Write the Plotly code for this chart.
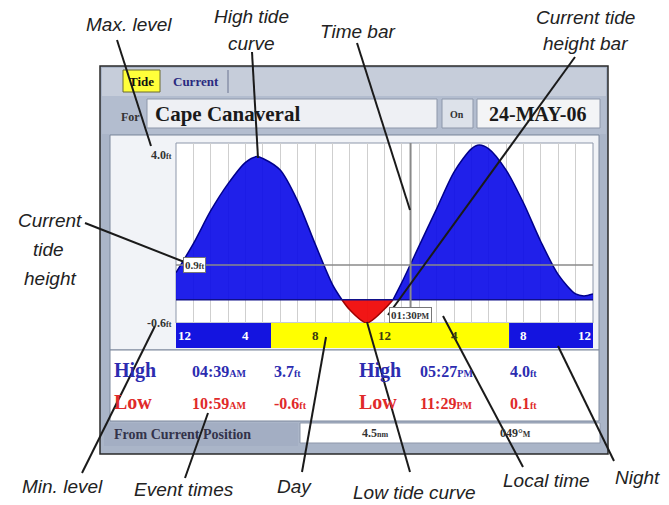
import numpy as np
import plotly.graph_objects as go

# ---------------- data ----------------
tide_hours = [0, 1, 2, 3, 4, 4.65, 5, 6, 7, 8, 9, 9.55, 10, 10.98, 12, 12.49,
              13, 14, 15, 16, 17, 17.45, 18, 19, 20, 21, 22, 23, 23.48, 24]
tide_ft = [0.7, 1.45, 2.3, 3.0, 3.55, 3.7, 3.65, 3.35, 2.55, 1.45, 0.4, 0.0,
           -0.26, -0.6, -0.24, 0.0, 0.45, 1.4, 2.35, 3.3, 3.9, 4.0, 3.9, 3.35,
           2.5, 1.5, 0.65, 0.15, 0.1, 0.15]
low_start, low_end = 9.55, 12.49          # zero crossings
sunrise_h, sunset_h = 5.47, 19.17
bar_hours = [0, 4, 8, 12, 16, 20, 24]
bar_labels = ["12", "4", "8", "12", "4", "8", "12"]
current_hour, current_ft = 13.5, 0.9
local_time, local_ampm = "01:30", "PM"
max_level, min_level = 4.0, -0.6

event_kind = ["High", "Low", "High", "Low"]
event_time = ["04:39", "10:59", "05:27", "11:29"]
event_ampm = ["AM", "AM", "PM", "PM"]
event_ft = [3.7, -0.6, 4.0, 0.1]

station = "Cape Canaveral"
date_str = "24-MAY-06"
distance = "4.5"
bearing = "049°"

callouts = ["Max. level", "High tide|curve", "Time bar", "Current tide|height bar",
            "Current|tide|height", "Min. level", "Event times", "Day",
            "Low tide curve", "Local time", "Night"]

# ---------------- helpers ----------------
W, H = 669, 505
def X(p): return p / W
def Y(p): return 1 - p / H

h = np.array(tide_hours)
f = np.array(tide_ft)
seg1 = h <= low_start
seg2 = h >= low_end
segr = (h >= low_start) & (h <= low_end)

fig = go.Figure()
for m in (seg1, seg2):
    fig.add_trace(go.Scatter(x=h[m], y=np.clip(f[m], 0, None), mode="lines",
                             line=dict(color="#00008c", width=1.5, shape="spline", smoothing=0.8),
                             fill="tozeroy", fillcolor="rgba(8,8,232,0.9)",
                             hoverinfo="skip", showlegend=False))
fig.add_trace(go.Scatter(x=h[segr], y=f[segr], mode="lines",
                         line=dict(color="#a00000", width=1.5, shape="spline", smoothing=0.8),
                         fill="tozeroy", fillcolor="rgba(240,10,10,0.95)",
                         hoverinfo="skip", showlegend=False))

shapes = []
def rect(x0, y0, x1, y1, fill, line=None, lw=0, layer="below"):
    shapes.append(dict(type="rect", xref="paper", yref="paper",
                       x0=X(x0), x1=X(x1), y0=Y(y1), y1=Y(y0),
                       fillcolor=fill, line=dict(color=line or fill, width=lw), layer=layer))
def seg(x0, y0, x1, y1, color="#1a1a1a", w=2, layer="above"):
    shapes.append(dict(type="line", xref="paper", yref="paper",
                       x0=X(x0), y0=Y(y0), x1=X(x1), y1=Y(y1),
                       line=dict(color=color, width=w), layer=layer))

# device frame and panels
rect(100, 66, 608, 454, "#aab5c8", "#2a2a2a", 1.5)
rect(102, 68, 606, 96, "#c6cdda")
rect(102, 96, 606, 134, "#b3bdcf")
rect(123, 70, 160, 92, "#ffff3a", "#6a6a30", 1)
seg(228, 70, 228, 93, "#8890a8", 1.5, "below")
rect(147, 99, 437, 128, "#eef0f4", "#8d97aa", 1)
rect(442, 99, 473, 128, "#dde2ea", "#8d97aa", 1)
rect(477, 99, 600, 128, "#f3f4f6", "#8d97aa", 1)
rect(110, 135, 599, 350, "#f1f3f7", "#7d889c", 1)
rect(176, 143, 593, 323, "#ffffff", "#8d97aa", 1)
rect(110, 350, 599, 421, "#ffffff", "#7d889c", 1)
rect(104, 423, 298, 446, "#a3aec3")
rect(300, 423, 600, 443, "#ffffff", "#8d97aa", 1)

# day / night bar (data x)
for x0, x1, c in [(0, sunrise_h, "#1414e0"), (sunrise_h, sunset_h, "#ffff00"), (sunset_h, 24, "#1414e0")]:
    shapes.append(dict(type="rect", xref="x", yref="paper", x0=x0, x1=x1,
                       y0=Y(348), y1=Y(323), fillcolor=c, line=dict(width=0), layer="below"))

# zero line, current height bar, time bar
shapes.append(dict(type="line", xref="x", yref="y", x0=0, x1=24, y0=0, y1=0,
                   line=dict(color="#10108a", width=1.5), layer="above"))
shapes.append(dict(type="line", xref="x", yref="y", x0=0, x1=24, y0=current_ft, y1=current_ft,
                   line=dict(color="#8a8a8a", width=1.5), layer="above"))
shapes.append(dict(type="line", xref="x", yref="y domain", x0=current_hour, x1=current_hour, y0=0, y1=1,
                   line=dict(color="#8a8a8a", width=2), layer="above"))

# leader lines
seg(117, 40, 151, 146)
seg(252, 52, 258, 158)
seg(357, 43, 410, 210)
seg(575, 57, 388, 315)
seg(85, 223, 192, 265)
seg(82, 473, 155, 326)
seg(185, 478, 208, 413)
seg(302, 472, 326, 337)
seg(410, 472, 367, 322)
seg(523, 467, 443, 316)
seg(614, 461, 558, 346)

ann = []
def txt(x, y, s, size, color="#222", family="Liberation Sans, Arial", xanchor="center", **kw):
    ann.append(dict(x=X(x), y=Y(y), xref="paper", yref="paper", text=s, showarrow=False,
                    xanchor=xanchor, yanchor="middle",
                    font=dict(size=size, color=color, family=family), **kw))

# callout labels (italic)
pos = [[(129, 24)], [(251, 16), (251, 44)], [(358, 31)], [(585, 17), (585, 44)],
       [(50, 221), (48, 249), (50, 278)], [(62, 486)], [(184, 489)], [(294, 486)],
       [(414, 492)], [(546, 480)], [(637, 477)]]
for label, ps in zip(callouts, pos):
    for part, (x, y) in zip(label.split("|"), ps):
        txt(x, y, "<i>" + part + "</i>", 19, "#222222")

serif = "Liberation Serif, Times New Roman, serif"
# header
txt(141, 81, "<b>Tide</b>", 13, "#111", serif)
txt(196, 81, "<b>Current</b>", 13, "#2a2a80", serif)
txt(130, 117, "<b>For</b>", 12, "#333", serif)
txt(153, 114, "<b>" + station + "</b>", 21, "#1a1a1a", serif, xanchor="left")
txt(457, 115, "<b>On</b>", 10, "#333", serif)
txt(537, 114, "<b>" + date_str + "</b>", 20, "#1a1a1a", serif)

# y labels
ann.append(dict(x=X(174), y=max_level, xref="paper", yref="y", yanchor="top", yshift=-1,
                xanchor="right", showarrow=False,
                text="<b>%.1f<span style='font-size:8px'>ft</span></b>" % max_level,
                font=dict(size=12, color="#333", family=serif)))
ann.append(dict(x=X(174), y=min_level, xref="paper", yref="y", yanchor="middle",
                xanchor="right", showarrow=False,
                text="<b>%.1f<span style='font-size:8px'>ft</span></b>" % min_level,
                font=dict(size=12, color="#333", family=serif)))
# current height box
ann.append(dict(x=X(183), y=current_ft, xref="paper", yref="y", xanchor="left", yanchor="middle",
                showarrow=False, bgcolor="#ffffff", bordercolor="#777", borderwidth=1, borderpad=1,
                text="<b>%.1f<span style='font-size:8px'>ft</span></b>" % current_ft,
                font=dict(size=11, color="#333", family=serif)))
# local time box
ann.append(dict(x=current_hour, y=Y(315), xref="x", yref="paper", xanchor="center", yanchor="middle",
                showarrow=False, bgcolor="#ffffff", bordercolor="#777", borderwidth=1, borderpad=1,
                text="<b>%s<span style='font-size:8px'>%s</span></b>" % (local_time, local_ampm),
                font=dict(size=11, color="#333", family=serif)))
# bar labels
for i, (bh, bl) in enumerate(zip(bar_hours, bar_labels)):
    day = sunrise_h < bh < sunset_h
    xa = "left" if i == 0 else ("right" if i == len(bar_hours) - 1 else "center")
    ann.append(dict(x=bh, y=Y(335), xref="x", yref="paper", xanchor=xa, yanchor="middle",
                    showarrow=False, text="<b>" + bl + "</b>",
                    font=dict(size=13, color="#3a3a10" if day else "#ffffff", family=serif)))

# event table
col_x = [(112, 190, 272), (357, 418, 508)]
row_y = [370, 402]
for k in range(4):
    cx = col_x[k // 2]
    ry = row_y[k % 2]
    c = "#2c2cb0" if event_kind[k] == "High" else "#e02a2a"
    txt(cx[0], ry, "<b>" + event_kind[k] + "</b>", 20, c, serif, xanchor="left")
    txt(cx[1], ry + 1, "<b>%s<span style='font-size:10px'>%s</span></b>" % (event_time[k], event_ampm[k]),
        16, c, serif, xanchor="left")
    txt(cx[2], ry + 1, "<b>%.1f<span style='font-size:10px'>ft</span></b>" % event_ft[k],
        16, c, serif, xanchor="left")

# bottom row
txt(112, 434, "<b>From Current Position</b>", 14, "#33334a", serif, xanchor="left")
txt(375, 433, "<b>%s<span style='font-size:8px'>nm</span></b>" % distance, 12, "#333", serif)
txt(515, 433, "<b>%s<span style='font-size:8px'>M</span></b>" % bearing, 12, "#333", serif)

fig.update_layout(
    width=W, height=H, margin=dict(l=0, r=0, t=0, b=0),
    paper_bgcolor="#ffffff", plot_bgcolor="rgba(0,0,0,0)",
    shapes=shapes, annotations=ann, showlegend=False,
    xaxis=dict(domain=[X(176), X(593)], range=[0, 24], dtick=1, tick0=0, showgrid=True,
               gridcolor="#cfcfcf", gridwidth=1, zeroline=False, showticklabels=False,
               showline=False, fixedrange=True),
    yaxis=dict(domain=[Y(323), Y(143)], range=[-0.6, 4.05], showgrid=False, zeroline=False,
               showticklabels=False, showline=False, fixedrange=True),
)
fig.write_html("out.html", config={"displayModeBar": False},
               post_script="document.body.style.margin='0';document.body.style.overflow='hidden';")
